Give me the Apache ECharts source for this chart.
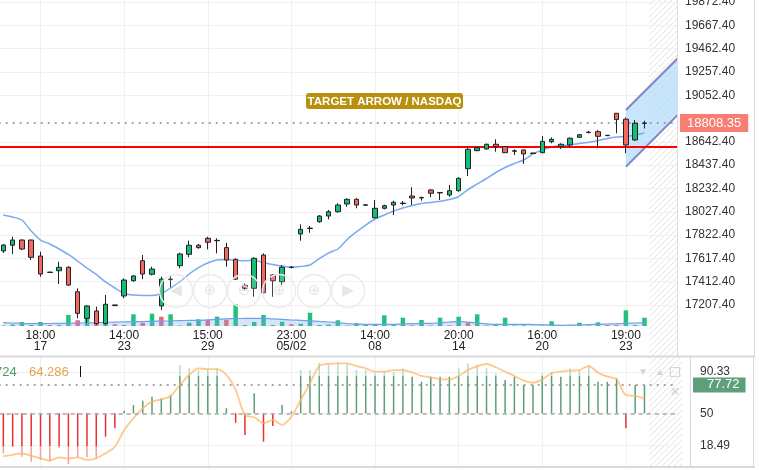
<!DOCTYPE html>
<html><head><meta charset="utf-8">
<script src="https://cdn.jsdelivr.net/npm/echarts/dist/echarts.min.js"></script>
<style>html,body{margin:0;padding:0;background:#fff}#c{width:766px;height:470px}</style>
</head><body><div id="c"></div><script>
const FF = 'Liberation Sans, Arial, sans-serif';

// ---- x axis ----
const slotCount = 73;
const xTickIdx = [4, 13, 22, 31, 40, 49, 58, 67];
const xTickLabels = ['18:00\n17', '14:00\n23', '15:00\n29', '23:00\n05/02', '14:00\n08', '20:00\n14', '16:00\n20', '19:00\n23'];

// ---- price panel ----
const yTicks = [17207.4, 17412.4, 17617.4, 17822.4, 18027.4, 18232.4, 18437.4, 18642.4, 19052.4, 19257.4, 19462.4, 19667.4, 19872.4];
const opens = [17683,17733,17779,17779,17638,17497,17509,17539,17324,17090,
  17155,17045,17208,17287,17421,17597,17478,17199,17431,17553,
  17653,17733,17794,17776,17712,17609,17380,17354,17647,17471,
  17412,17541,17832,17880,17940,17990,18028,18096,18137,18089,
  17975,18058,18087,18100,18166,18149,18219,18193,18175,18213,
  18406,18565,18580,18621,18600,18560,18571,18544,18547,18644,
  18600,18615,18682,18724,18732,18700,18894,18841,18659,18805];
const closes = [17735,17779,17700,17627,17480,17493,17539,17383,17134,17199,
  17045,17214,17202,17427,17463,17480,17524,17436,17436,17656,
  17733,17712,17759,17773,17603,17434,17354,17618,17316,17421,
  17539,17537,17873,17884,17990,18028,18087,18137,18087,18085,
  18058,18081,18111,18104,18149,18153,18190,18197,18213,18322,
  18577,18591,18621,18600,18547,18564,18536,18540,18647,18665,
  18621,18674,18705,18728,18691,18697,18838,18615,18806,18808.35];
const lows = [17665,17656,17690,17603,17456,17490,17392,17375,17090,17049,
  17032,17035,17200,17267,17412,17434,17468,17164,17363,17530,
  17627,17703,17697,17662,17544,17427,17333,17280,17310,17280,
  17383,17530,17773,17843,17931,17961,18019,18072,18058,18083,
  17970,18049,17999,18084,18087,18125,18155,18131,18160,18204,
  18342,18560,18575,18556,18544,18527,18448,18538,18542,18630,
  18580,18600,18676,18718,18586,18695,18718,18542,18650,18760];
const highs = [17744,17808,17785,17782,17676,17500,17588,17548,17354,17205,
  17193,17296,17210,17442,17471,17647,17545,17456,17463,17667,
  17773,17744,17808,17794,17755,17618,17398,17627,17662,17478,
  17559,17548,17917,17902,17999,18043,18102,18146,18146,18091,
  18131,18090,18125,18122,18243,18160,18225,18201,18263,18331,
  18593,18596,18627,18665,18606,18577,18574,18546,18694,18682,
  18630,18682,18711,18740,18747,18702,18896,18858,18835,18828];
const maLine = [17999,17981,17955,17858,17779,17744,17700,17652,17594,17533,
  17476,17410,17357,17309,17295,17291,17291,17309,17357,17412,
  17480,17537,17577,17603,17608,17601,17597,17601,17580,17564,
  17550,17539,17546,17559,17615,17665,17700,17784,17850,17911,
  17964,17999,18034,18061,18083,18100,18109,18120,18135,18162,
  18223,18272,18320,18373,18417,18452,18483,18536,18571,18597,
  18610,18615,18628,18638,18654,18672,18685,18690,18703,18720];
const lastPrice = 18808.35;
const redLevel = 18595;
const channelX = [67, 73];
const channelUpper = [18922, 19412];
const channelLower = [18424, 18914];

// ---- volume ----
const volume = [50,150,400,100,400,100,100,1100,570,1900,
  830,1170,170,100,1170,330,1230,930,1170,50,
  330,670,600,930,600,2170,100,400,1100,100,
  430,170,230,1330,100,150,570,50,270,100,
  100,1070,100,830,70,600,50,830,70,930,
  330,1170,50,100,830,50,70,30,50,470,
  50,50,330,50,370,100,100,1570,100,830];
const volumeDown = [5,8,10,12,15,17,22,24,31,44,46,48,50,65,66];
const volumeMA = [330,300,260,230,240,250,260,270,290,310,
  330,360,390,410,430,450,470,490,510,540,
  560,570,620,670,720,740,760,770,770,720,
  660,600,570,520,460,400,330,250,180,170,
  170,170,170,200,230,260,270,330,400,430,
  380,300,220,170,170,170,170,150,120,90,
  70,80,110,140,170,200,230,270,300,330];

// ---- oscillator ----
const oscTicks = [18.49, 50, 90.33];
const oscHist = [11.0,17.4,7.7,2.8,4.5,2.8,15.9,0.6,7.1,7.1,
  5.7,27.2,35.4,52.5,58.1,62.3,66.2,64.6,67.8,97.1,
  93.9,92.2,93.0,93.9,55,40.8,28.8,69.5,22.3,37.6,
  58.1,52,92.2,92.2,99.3,97.1,99.3,98.1,92.2,92.2,
  89.0,90.6,90.6,93.9,85.7,80.8,85.7,85.7,85.7,93.9,
  98.7,97.1,93.9,89.0,82.5,85.7,77.6,77.6,89.0,90.6,
  85.7,93.9,92.2,97.1,80.8,80.8,84.1,35.4,77.6,77.72];
const oscSignal = [8.2,9.5,11.0,8.5,6.0,4.0,7.1,6.1,7.1,4.5,
  6.1,11.0,17.4,33.7,45.1,54.9,61.4,63.6,66.9,77.6,
  87.4,93.9,93.0,93.0,87.4,72.8,48.4,46.2,40.3,43.6,
  38.7,46.8,63.0,79.2,96.1,98.1,98.7,98.7,96.1,93.9,
  90.6,90.6,92.2,92.2,89.9,86.4,85.1,83.4,83.1,86.4,
  92.2,96.1,98.1,94.9,90.5,86.4,81.8,79.8,83.1,89.0,
  90.6,91.6,92.2,96.1,89.7,85.7,83.1,67.8,66.9,64.286];
const oscLast = 77.72;
const oscLegend = ['77.724', '64.286'];

const categories = [];
for (let i = 0; i < slotCount; i++) categories.push(String(i));
const candleData = opens.map((o, i) => [o, closes[i], lows[i], highs[i]]);
const isTick = (i) => xTickIdx.indexOf(i) >= 0;

const UP = '#12bf77', DOWN = '#f4675f';
const chart = echarts.init(document.getElementById('c'));

// hatch pattern
const pc = document.createElement('canvas'); pc.width = 6; pc.height = 6;
const g2 = pc.getContext('2d'); g2.strokeStyle = '#e2e2e2'; g2.lineWidth = 1;
g2.beginPath(); g2.moveTo(0, 6); g2.lineTo(6, 0); g2.moveTo(-1, 1); g2.lineTo(1, -1); g2.moveTo(5, 7); g2.lineTo(7, 5); g2.stroke();
const hatch = {image: pc, repeat: 'repeat'};

const gridBase = {left: -1.3, right: 89, outerBoundsMode: 'none', containLabel: false};
const xBase = {type: 'category', data: categories, boundaryGap: true, axisLine: {show: false}, axisTick: {show: false}};
const xSplit = {show: true, interval: (i) => isTick(i), alignWithLabel: true, lineStyle: {color: '#f0f0f0', width: 1}};

const circleX = [176, 210, 244, 279, 314, 348];
const circleGlyph = ['◀', '⊕', '⊖', '⊕', '⊕', '▶'];
const graphics = [
  {type: 'rect', z: -5, shape: {x: 649, y: 0, width: 28, height: 356}, style: {fill: hatch}},
  {type: 'rect', z: -5, shape: {x: 649, y: 357, width: 33, height: 109}, style: {fill: hatch}},
  {type: 'line', z: 50, shape: {x1: 677.5, y1: 0, x2: 677.5, y2: 356}, style: {stroke: '#dcdcdc', lineWidth: 1}},
  {type: 'line', z: 50, shape: {x1: 754.5, y1: 0, x2: 754.5, y2: 356}, style: {stroke: '#dcdcdc', lineWidth: 1}},
  {type: 'line', z: 50, shape: {x1: 0, y1: 356.5, x2: 755, y2: 356.5}, style: {stroke: '#d9d9d9', lineWidth: 2}},
  {type: 'line', z: 50, shape: {x1: 0, y1: 467, x2: 755, y2: 467}, style: {stroke: '#d9d9d9', lineWidth: 2}},
  {type: 'line', z: 50, shape: {x1: 690.5, y1: 356, x2: 690.5, y2: 467}, style: {stroke: '#d9d9d9', lineWidth: 1}},
  {type: 'line', z: 50, shape: {x1: 753.5, y1: 356, x2: 753.5, y2: 467}, style: {stroke: '#d9d9d9', lineWidth: 1}},
  {type: 'text', z: 60, x: -23, y: 372, style: {text: oscLegend[0], fill: '#4e9a6c', font: '13px ' + FF, verticalAlign: 'middle'}},
  {type: 'text', z: 60, x: 29, y: 372, style: {text: oscLegend[1], fill: '#e2a548', font: '13px ' + FF, verticalAlign: 'middle'}},
  {type: 'line', z: 60, shape: {x1: 80.5, y1: 366, x2: 80.5, y2: 377}, style: {stroke: '#111', lineWidth: 1}},
  {type: 'text', z: 60, x: 643, y: 372, style: {text: '▼', fill: '#d6d6d6', font: '10px ' + FF, align: 'center', verticalAlign: 'middle'}},
  {type: 'text', z: 60, x: 660, y: 372, style: {text: '▲', fill: '#d6d6d6', font: '10px ' + FF, align: 'center', verticalAlign: 'middle'}},
  {type: 'rect', z: 60, shape: {x: 670.5, y: 367.5, width: 9, height: 9}, style: {fill: 'none', stroke: '#d6d6d6', lineWidth: 1.2}},
  {type: 'text', z: 60, x: 675, y: 393, style: {text: '✕', fill: '#d4d4d4', font: 'bold 13px DejaVu Sans', align: 'center', verticalAlign: 'middle'}},
  {type: 'group', z: 60, children: [
    {type: 'rect', z: 60, shape: {x: 306, y: 93, width: 157, height: 16, r: 3}, style: {fill: '#b8900c'}},
    {type: 'text', z: 61, x: 384.5, y: 101.5, style: {text: 'TARGET ARROW / NASDAQ', fill: '#ffffff', font: 'bold 11.5px ' + FF, align: 'center', verticalAlign: 'middle'}}
  ]}
];
circleX.forEach((cx, k) => {
  graphics.push({type: 'circle', z: 40, shape: {cx: cx, cy: 291, r: 16.5}, style: {fill: 'rgba(255,255,255,0.15)', stroke: '#ebebeb', lineWidth: 1.5}});
  graphics.push({type: 'text', z: 41, x: cx, y: 291, style: {text: circleGlyph[k], fill: '#e6e6e6', font: '15px DejaVu Sans', align: 'center', verticalAlign: 'middle'}});
});

const option = {
  animation: false,
  backgroundColor: '#ffffff',
  textStyle: {fontFamily: FF},
  grid: [
    Object.assign({top: 0, height: 326}, gridBase),
    Object.assign({top: 300, height: 26}, gridBase),
    Object.assign({top: 356, height: 110}, gridBase)
  ],
  xAxis: [
    Object.assign({}, xBase, {gridIndex: 0,
      axisLabel: {show: true, interval: (i) => isTick(i), formatter: (v, i) => xTickLabels[xTickIdx.indexOf(i)] || '',
        color: '#222', fontSize: 12, lineHeight: 11, margin: 4, fontFamily: FF},
      splitLine: xSplit}),
    Object.assign({}, xBase, {gridIndex: 1, axisLabel: {show: false}, splitLine: {show: false}}),
    Object.assign({}, xBase, {gridIndex: 2, axisLabel: {show: false}, splitLine: xSplit})
  ],
  yAxis: [
    {type: 'value', gridIndex: 0, position: 'right', min: 17022.8, max: 19890,
      axisLine: {show: false}, axisTick: {show: false, customValues: yTicks},
      axisLabel: {customValues: yTicks, formatter: (v) => Number(v).toFixed(2), color: '#333', fontSize: 12, margin: 8, fontFamily: FF},
      splitLine: {show: true, lineStyle: {color: '#f0f0f0', width: 1}}},
    {type: 'value', gridIndex: 1, min: 0, max: 2600, show: false, splitLine: {show: false}},
    {type: 'value', gridIndex: 2, position: 'right', min: -1.4, max: 105.9,
      axisLine: {show: false}, axisTick: {show: false, customValues: oscTicks},
      axisLabel: {customValues: oscTicks, formatter: (v) => (Number(v) === 50 ? '50' : Number(v).toFixed(2)), color: '#333', fontSize: 12, margin: 23, fontFamily: FF},
      splitLine: {show: true, lineStyle: {color: '#f0f0f0', width: 1}}}
  ],
  graphic: {elements: graphics},
  series: [
    {type: 'custom', name: 'channel', xAxisIndex: 0, yAxisIndex: 0, z: 1, clip: true, silent: true,
      data: [[0, 0]],
      renderItem: function (params, api) {
        const p1 = api.coord([channelX[0], channelUpper[0]]);
        const p2 = api.coord([channelX[1], channelUpper[1]]);
        const p3 = api.coord([channelX[1], channelLower[1]]);
        const p4 = api.coord([channelX[0], channelLower[0]]);
        return {type: 'group', children: [
          {type: 'polygon', shape: {points: [p1, p2, p3, p4]}, style: {fill: 'rgba(180,220,250,0.75)'}},
          {type: 'line', shape: {x1: p1[0], y1: p1[1], x2: p2[0], y2: p2[1]}, style: {stroke: '#8286c8', lineWidth: 2}},
          {type: 'line', shape: {x1: p4[0], y1: p4[1], x2: p3[0], y2: p3[1]}, style: {stroke: '#8286c8', lineWidth: 2}}
        ]};
      }},
    {type: 'bar', name: 'vol', xAxisIndex: 1, yAxisIndex: 1, z: 2, barWidth: 4.5, silent: true,
      data: volume.map((v, i) => ({value: v, itemStyle: {color: volumeDown.indexOf(i) >= 0 ? '#e86c70' : '#22c27c'}}))},
    {type: 'line', name: 'volMA', xAxisIndex: 1, yAxisIndex: 1, z: 3, symbol: 'none', smooth: true, silent: true,
      data: volumeMA, lineStyle: {color: '#6f9ff0', width: 1.2}, areaStyle: {color: 'rgba(120,162,238,0.42)'}},
    {type: 'line', name: 'MA', xAxisIndex: 0, yAxisIndex: 0, z: 4, symbol: 'none', smooth: 0.2, silent: true,
      data: maLine, lineStyle: {color: '#78aaf2', width: 1.5}},
    {type: 'candlestick', name: 'NASDAQ', xAxisIndex: 0, yAxisIndex: 0, z: 5, barWidth: 5, silent: true,
      data: candleData,
      itemStyle: {color: UP, color0: DOWN, borderColor: '#222', borderColor0: '#222', borderWidth: 1},
      markLine: {silent: true, symbol: ['none', 'none'], animation: false,
        data: [
          {yAxis: redLevel, lineStyle: {color: '#ff0000', width: 2, type: 'solid'}, label: {show: false}},
          {yAxis: lastPrice, lineStyle: {color: '#8a8a8a', width: 1.5, type: [2, 5]},
            label: {show: true, position: 'end', distance: 3, formatter: () => lastPrice.toFixed(2),
              backgroundColor: '#f87d72', color: '#fff', fontSize: 13, padding: [3, 7, 2, 7], fontFamily: FF}}
        ]}},
    {type: 'custom', name: 'oscHist', xAxisIndex: 2, yAxisIndex: 2, z: 2, silent: true,
      data: oscHist.map((v, i) => [i, v]),
      encode: {x: 0, y: 1},
      renderItem: function (params, api) {
        const i = api.value(0), v = api.value(1);
        const base = api.coord([i, 50]);
        const x = base[0] - 0.75, w = 1.5;
        const ch = [];
        if (v >= 50) {
          const vd = Math.min(v, 86.5);
          const yd = api.coord([i, vd])[1];
          ch.push({type: 'rect', shape: {x: x, y: yd, width: w, height: base[1] - yd}, style: {fill: '#5a9e75'}});
          if (v > 86.5) {
            const yv = api.coord([i, v])[1];
            ch.push({type: 'rect', shape: {x: x, y: yv, width: w, height: yd - yv}, style: {fill: '#b6dac4'}});
          }
        } else {
          const vd = Math.max(v, 17.5);
          const yd = api.coord([i, vd])[1];
          ch.push({type: 'rect', shape: {x: x, y: base[1], width: w, height: yd - base[1]}, style: {fill: '#e8302f'}});
          if (v < 17.5) {
            const yv = api.coord([i, v])[1];
            ch.push({type: 'rect', shape: {x: x, y: yd, width: w, height: yv - yd}, style: {fill: '#f2a0a0'}});
          }
        }
        return {type: 'group', children: ch};
      }},
    {type: 'line', name: 'signal', xAxisIndex: 2, yAxisIndex: 2, z: 3, symbol: 'none', smooth: 0.3, silent: true,
      data: oscSignal, lineStyle: {color: 'rgba(253,178,92,0.7)', width: 1.8},
      markLine: {silent: true, symbol: ['none', 'none'], animation: false,
        data: [
          {yAxis: 50, lineStyle: {color: '#a8a8a8', width: 1.5, type: [4, 4]}, label: {show: false}},
          {yAxis: oscLast, lineStyle: {color: '#8a8a8a', width: 1.5, type: [2, 5]},
            label: {show: true, position: 'end', distance: 16, formatter: () => oscLast.toFixed(2),
              backgroundColor: '#5d9f78', color: '#fff', fontSize: 13, padding: [1, 6, 1, 14], fontFamily: FF}}
        ]}}
  ]
};
chart.setOption(option);
</script></body></html>
